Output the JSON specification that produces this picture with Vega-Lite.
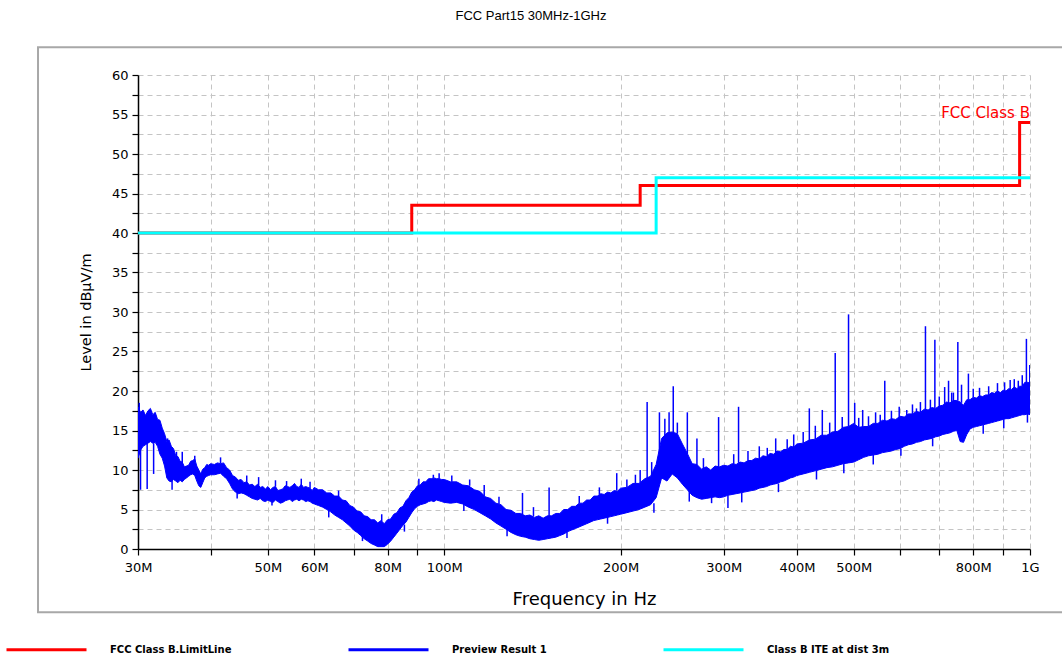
{
"$schema": "https://vega.github.io/schema/vega-lite/v6.json",
"width": 892,
"height": 474,
"autosize": {"type": "none"},
"padding": {"left": 138, "top": 75, "right": 32, "bottom": 113},
"background": "white",
"title": {"text": "FCC Part15 30MHz-1GHz", "font": "Liberation Sans", "fontSize": 13, "fontWeight": "normal", "color": "black", "anchor": "middle", "frame": "group", "dx": -53, "offset": 23},
"config": {"view": {"stroke": null}},
"datasets": {
"limits": [
{"s": "FCC Class B.LimitLine", "f": 30, "v": 40},
{"s": "FCC Class B.LimitLine", "f": 88, "v": 43.5},
{"s": "FCC Class B.LimitLine", "f": 216, "v": 46},
{"s": "FCC Class B.LimitLine", "f": 960, "v": 54},
{"s": "FCC Class B.LimitLine", "f": 1000, "v": 54},
{"s": "Class B ITE at dist 3m", "f": 30, "v": 40},
{"s": "Class B ITE at dist 3m", "f": 230, "v": 47},
{"s": "Class B ITE at dist 3m", "f": 1000, "v": 47}
],
"band": [
{"f":30.0,"lo":11.5,"hi":18.0},{"f":30.3,"lo":12.5,"hi":17.3},{"f":30.6,"lo":13.0,"hi":17.6},{"f":30.9,"lo":13.2,"hi":16.9},{"f":31.2,"lo":13.4,"hi":17.5},{"f":31.5,"lo":13.6,"hi":17.8},{"f":31.8,"lo":13.4,"hi":17.0},{"f":32.1,"lo":13.5,"hi":17.3},{"f":32.4,"lo":13.0,"hi":16.4},{"f":32.7,"lo":12.0,"hi":16.3},{"f":33.0,"lo":11.5,"hi":15.3},{"f":33.3,"lo":10.5,"hi":14.6},{"f":33.6,"lo":9.0,"hi":13.6},{"f":33.9,"lo":8.6,"hi":13.8},{"f":34.2,"lo":8.5,"hi":13.0},{"f":34.5,"lo":8.8,"hi":12.7},{"f":34.8,"lo":8.6,"hi":11.8},{"f":35.1,"lo":8.4,"hi":11.7},{"f":35.4,"lo":8.7,"hi":11.1},{"f":35.7,"lo":8.5,"hi":11.0},{"f":36.0,"lo":8.8,"hi":10.4},{"f":36.3,"lo":9.0,"hi":10.5},{"f":36.6,"lo":9.2,"hi":10.6},{"f":36.9,"lo":9.4,"hi":11.1},{"f":37.2,"lo":9.5,"hi":11.2},{"f":37.5,"lo":9.3,"hi":11.4},{"f":37.8,"lo":8.6,"hi":10.5},{"f":38.1,"lo":8.0,"hi":10.0},{"f":38.4,"lo":7.8,"hi":9.5},{"f":38.7,"lo":8.4,"hi":10.1},{"f":39.0,"lo":9.0,"hi":10.3},{"f":39.3,"lo":9.2,"hi":10.7},{"f":39.6,"lo":9.3,"hi":10.6},{"f":39.9,"lo":9.4,"hi":10.8},
{"f":40.5,"lo":9.4,"hi":10.7},{"f":41.0,"lo":9.5,"hi":10.9},{"f":41.5,"lo":9.6,"hi":10.8},{"f":42.0,"lo":9.2,"hi":10.9},{"f":42.5,"lo":8.9,"hi":10.3},{"f":43.0,"lo":8.3,"hi":10.0},{"f":43.5,"lo":7.6,"hi":9.3},{"f":44.0,"lo":7.2,"hi":9.1},{"f":44.5,"lo":7.0,"hi":8.7},{"f":45.0,"lo":7.1,"hi":8.8},{"f":45.5,"lo":7.0,"hi":8.4},{"f":46.0,"lo":6.8,"hi":8.5},{"f":46.5,"lo":6.6,"hi":8.1},{"f":47.0,"lo":6.4,"hi":8.2},{"f":47.5,"lo":6.3,"hi":7.9},{"f":48.0,"lo":6.2,"hi":8.2},{"f":48.5,"lo":6.4,"hi":7.8},{"f":49.0,"lo":6.1,"hi":7.9},{"f":49.5,"lo":6.0,"hi":7.6},{"f":50.0,"lo":6.2,"hi":7.9},{"f":50.5,"lo":6.0,"hi":7.5},{"f":51.0,"lo":5.9,"hi":7.8},{"f":51.5,"lo":6.2,"hi":7.9},{"f":52.0,"lo":6.0,"hi":7.4},{"f":52.5,"lo":5.8,"hi":7.5},{"f":53.0,"lo":5.9,"hi":7.6},{"f":53.5,"lo":6.1,"hi":8.0},{"f":54.0,"lo":6.2,"hi":7.9},{"f":54.5,"lo":6.3,"hi":7.8},{"f":55.0,"lo":6.0,"hi":8.0},{"f":55.5,"lo":6.2,"hi":8.3},{"f":56.0,"lo":6.3,"hi":7.9},{"f":56.5,"lo":6.1,"hi":7.8},{"f":57.0,"lo":6.3,"hi":8.2},{"f":57.5,"lo":6.2,"hi":7.8},{"f":58.0,"lo":6.0,"hi":7.9},{"f":58.5,"lo":6.1,"hi":7.8},{"f":59.0,"lo":6.0,"hi":7.7},{"f":59.5,"lo":5.8,"hi":7.4},{"f":60.0,"lo":5.7,"hi":7.8},
{"f":61,"lo":5.5,"hi":7.5},{"f":62,"lo":5.3,"hi":7.5},{"f":63,"lo":5.0,"hi":7.1},{"f":64,"lo":4.7,"hi":7.1},{"f":65,"lo":4.3,"hi":6.7},{"f":66,"lo":4.0,"hi":6.7},{"f":67,"lo":3.7,"hi":6.2},{"f":68,"lo":3.3,"hi":6.1},{"f":69,"lo":2.9,"hi":5.5},{"f":70,"lo":2.4,"hi":5.3},{"f":71,"lo":2.1,"hi":4.8},{"f":72,"lo":1.7,"hi":4.7},{"f":73,"lo":1.3,"hi":4.2},{"f":74,"lo":1.0,"hi":4.1},{"f":75,"lo":0.7,"hi":3.7},{"f":76,"lo":0.5,"hi":3.7},{"f":77,"lo":0.3,"hi":3.3},{"f":78,"lo":0.3,"hi":3.6},{"f":79,"lo":0.3,"hi":3.2},{"f":80,"lo":0.6,"hi":3.7},{"f":81,"lo":1.0,"hi":3.8},{"f":82,"lo":1.5,"hi":4.4},{"f":83,"lo":2.0,"hi":4.6},{"f":84,"lo":2.5,"hi":5.2},{"f":85,"lo":3.0,"hi":5.4},{"f":86,"lo":3.4,"hi":6.1},{"f":87,"lo":4.0,"hi":6.5},{"f":88,"lo":4.6,"hi":7.2},{"f":89,"lo":5.1,"hi":7.5},{"f":90,"lo":5.4,"hi":8.0},{"f":91,"lo":5.6,"hi":8.1},{"f":92,"lo":5.7,"hi":8.5},{"f":93,"lo":5.8,"hi":8.5},{"f":94,"lo":6.0,"hi":8.9},{"f":95,"lo":6.1,"hi":8.9},{"f":96,"lo":6.0,"hi":9.0},{"f":97,"lo":6.2,"hi":8.9},{"f":98,"lo":6.1,"hi":8.9},{"f":99,"lo":6.0,"hi":8.8},{"f":100,"lo":5.9,"hi":8.8},
{"f":102.5,"lo":5.8,"hi":8.5},{"f":105,"lo":5.9,"hi":8.5},{"f":107.5,"lo":5.7,"hi":8.1},{"f":110,"lo":5.3,"hi":8.0},{"f":112.5,"lo":5.0,"hi":7.5},{"f":115,"lo":4.6,"hi":7.3},{"f":117.5,"lo":4.2,"hi":6.6},{"f":120,"lo":3.8,"hi":6.4},{"f":122.5,"lo":3.3,"hi":5.8},{"f":125,"lo":2.9,"hi":5.6},{"f":127.5,"lo":2.5,"hi":5.0},{"f":130,"lo":2.1,"hi":4.9},{"f":132.5,"lo":1.8,"hi":4.5},{"f":135,"lo":1.6,"hi":4.5},{"f":137.5,"lo":1.5,"hi":4.2},{"f":140,"lo":1.3,"hi":4.3},{"f":142.5,"lo":1.2,"hi":4.0},{"f":145,"lo":1.1,"hi":4.2},{"f":147.5,"lo":1.2,"hi":3.9},{"f":150,"lo":1.3,"hi":4.2},{"f":152.5,"lo":1.4,"hi":4.2},{"f":155,"lo":1.5,"hi":4.5},{"f":157.5,"lo":1.7,"hi":4.5},{"f":160,"lo":1.9,"hi":5.0},{"f":162.5,"lo":2.2,"hi":5.0},{"f":165,"lo":2.4,"hi":5.4},{"f":167.5,"lo":2.6,"hi":5.4},{"f":170,"lo":2.8,"hi":5.8},{"f":172.5,"lo":3.0,"hi":5.8},{"f":175,"lo":3.2,"hi":6.2},{"f":177.5,"lo":3.4,"hi":6.2},{"f":180,"lo":3.6,"hi":6.7},{"f":182.5,"lo":3.7,"hi":6.7},{"f":185,"lo":3.8,"hi":7.0},{"f":187.5,"lo":3.9,"hi":6.9},{"f":190,"lo":4.0,"hi":7.2},{"f":192.5,"lo":4.1,"hi":7.1},{"f":195,"lo":4.2,"hi":7.4},{"f":197.5,"lo":4.3,"hi":7.3},{"f":200,"lo":4.4,"hi":7.7},
{"f":205,"lo":4.6,"hi":7.8},{"f":210,"lo":4.8,"hi":8.3},{"f":215,"lo":5.0,"hi":8.3},{"f":220,"lo":5.3,"hi":8.9},{"f":225,"lo":5.6,"hi":9.2},{"f":230,"lo":6.5,"hi":10.7},{"f":235,"lo":9.0,"hi":14.0},{"f":240,"lo":8.6,"hi":14.7},{"f":245,"lo":9.5,"hi":14.8},{"f":250,"lo":9.0,"hi":14.6},{"f":255,"lo":8.2,"hi":13.3},{"f":260,"lo":7.5,"hi":12.1},{"f":265,"lo":6.8,"hi":10.8},{"f":270,"lo":6.5,"hi":10.7},{"f":275,"lo":6.3,"hi":10.1},{"f":280,"lo":6.4,"hi":10.4},{"f":285,"lo":6.5,"hi":10.0},{"f":290,"lo":6.6,"hi":10.5},{"f":295,"lo":6.5,"hi":10.4},{"f":300,"lo":6.6,"hi":10.6},{"f":305,"lo":6.8,"hi":10.5},{"f":310,"lo":6.9,"hi":10.8},{"f":315,"lo":7.0,"hi":10.7},{"f":320,"lo":7.1,"hi":11.0},{"f":325,"lo":7.2,"hi":10.9},{"f":330,"lo":7.3,"hi":11.2},{"f":335,"lo":7.4,"hi":11.2},{"f":340,"lo":7.5,"hi":11.5},{"f":345,"lo":7.7,"hi":11.4},{"f":350,"lo":7.8,"hi":11.8},{"f":355,"lo":7.9,"hi":11.7},{"f":360,"lo":8.1,"hi":12.1},{"f":365,"lo":8.2,"hi":12.0},{"f":370,"lo":8.3,"hi":12.4},{"f":375,"lo":8.5,"hi":12.3},{"f":380,"lo":8.6,"hi":12.6},{"f":385,"lo":8.8,"hi":12.6},{"f":390,"lo":9.0,"hi":13.0},{"f":395,"lo":9.1,"hi":12.9},{"f":400,"lo":9.3,"hi":13.3},
{"f":410,"lo":9.5,"hi":13.4},{"f":420,"lo":9.7,"hi":13.8},{"f":430,"lo":9.9,"hi":13.9},{"f":440,"lo":10.1,"hi":14.4},{"f":450,"lo":10.3,"hi":14.4},{"f":460,"lo":10.4,"hi":14.8},{"f":470,"lo":10.6,"hi":14.9},{"f":480,"lo":10.8,"hi":15.4},{"f":490,"lo":10.9,"hi":15.5},{"f":500,"lo":11.0,"hi":15.9},{"f":510,"lo":11.3,"hi":15.4},{"f":520,"lo":11.6,"hi":15.5},{"f":530,"lo":11.8,"hi":15.5},{"f":540,"lo":11.9,"hi":15.9},{"f":550,"lo":12.0,"hi":15.9},{"f":560,"lo":12.2,"hi":16.3},{"f":570,"lo":12.3,"hi":16.2},{"f":580,"lo":12.4,"hi":16.5},{"f":590,"lo":12.6,"hi":16.4},{"f":600,"lo":12.7,"hi":16.8},{"f":610,"lo":13.0,"hi":16.7},{"f":620,"lo":13.2,"hi":17.1},{"f":630,"lo":13.3,"hi":17.1},{"f":640,"lo":13.5,"hi":17.4},{"f":650,"lo":13.6,"hi":17.3},{"f":660,"lo":13.8,"hi":17.7},{"f":670,"lo":13.9,"hi":17.6},{"f":680,"lo":14.0,"hi":17.9},{"f":690,"lo":14.2,"hi":17.8},{"f":700,"lo":14.3,"hi":18.1},{"f":710,"lo":14.5,"hi":18.2},{"f":720,"lo":14.6,"hi":18.6},{"f":730,"lo":14.7,"hi":18.5},{"f":740,"lo":14.9,"hi":18.8},{"f":750,"lo":15.0,"hi":18.8},{"f":760,"lo":13.6,"hi":18.6},{"f":770,"lo":13.5,"hi":18.2},{"f":780,"lo":14.5,"hi":18.9},{"f":790,"lo":15.2,"hi":18.9},{"f":800,"lo":15.4,"hi":19.2},{"f":810,"lo":15.5,"hi":19.1},{"f":820,"lo":15.6,"hi":19.4},{"f":830,"lo":15.7,"hi":19.3},{"f":840,"lo":15.8,"hi":19.5},{"f":850,"lo":15.9,"hi":19.5},{"f":860,"lo":16.0,"hi":19.8},{"f":870,"lo":16.1,"hi":19.7},{"f":880,"lo":16.2,"hi":20.0},{"f":890,"lo":16.3,"hi":19.8},{"f":900,"lo":16.4,"hi":20.1},{"f":910,"lo":16.5,"hi":20.0},{"f":920,"lo":16.5,"hi":20.3},{"f":930,"lo":16.6,"hi":20.2},{"f":940,"lo":16.7,"hi":20.5},{"f":950,"lo":16.8,"hi":20.3},{"f":960,"lo":16.9,"hi":20.6},{"f":970,"lo":17.0,"hi":20.6},{"f":980,"lo":17.0,"hi":21.1},{"f":990,"lo":17.1,"hi":21.1},{"f":1000,"lo":17.0,"hi":21.0}
],
"peaks": [
{"f":30.15,"lo":12,"hi":18.5},{"f":30.3,"lo":7.5,"hi":13},{"f":31.1,"lo":7.6,"hi":13.4},{"f":31.9,"lo":9.5,"hi":13.4},{"f":33.7,"lo":9,"hi":14},{"f":34.3,"lo":7.5,"hi":8.6},{"f":34.9,"lo":11,"hi":12.3},{"f":35.7,"lo":10.5,"hi":12.3},{"f":37.5,"lo":11,"hi":11.8},{"f":41.5,"lo":10.8,"hi":11.6},{"f":44.3,"lo":6.4,"hi":7.1},{"f":46,"lo":8.4,"hi":9.3},{"f":48.2,"lo":8,"hi":9.1},{"f":50.8,"lo":5.5,"hi":6.0},{"f":51.5,"lo":7.9,"hi":8.7},{"f":53.8,"lo":7.9,"hi":8.6},{"f":57.0,"lo":8,"hi":8.9},{"f":59,"lo":7.7,"hi":8.5},{"f":63.5,"lo":4.0,"hi":5.0},{"f":66,"lo":6.6,"hi":7.4},{"f":72.5,"lo":1.0,"hi":1.8},{"f":78.2,"lo":3.5,"hi":4.4},{"f":85.5,"lo":2.2,"hi":3.1},{"f":90.5,"lo":8.0,"hi":8.9},{"f":95.8,"lo":9,"hi":9.4},{"f":98,"lo":8.9,"hi":9.6},{"f":103,"lo":8.5,"hi":9.3},{"f":108,"lo":4.8,"hi":5.8},{"f":110.5,"lo":8.0,"hi":8.8},{"f":117,"lo":6.7,"hi":8.1},{"f":124,"lo":5.7,"hi":6.6},{"f":128,"lo":1.6,"hi":2.6},{"f":136,"lo":4.4,"hi":7.1},{"f":142,"lo":4.1,"hi":5.3},{"f":151,"lo":4.1,"hi":7.8},{"f":162,"lo":1.4,"hi":2.3},{"f":170,"lo":5.8,"hi":6.7},{"f":184,"lo":6.9,"hi":7.8},{"f":190,"lo":3.2,"hi":4.1},{"f":197,"lo":7.4,"hi":9.6},{"f":205,"lo":7.8,"hi":8.8},{"f":212,"lo":8.3,"hi":9.4},{"f":216,"lo":8.4,"hi":10},{"f":222,"lo":8.8,"hi":18.6},{"f":226,"lo":9.0,"hi":11.0},{"f":228,"lo":4.6,"hi":5.8},{"f":233,"lo":12,"hi":17.3},{"f":238,"lo":14.3,"hi":16.5},{"f":242,"lo":14.6,"hi":17.3},{"f":246,"lo":14.8,"hi":20.6},{"f":250,"lo":14.6,"hi":16.0},{"f":260,"lo":12,"hi":17.3},{"f":262,"lo":6.0,"hi":7.6},{"f":270,"lo":10.6,"hi":14},{"f":277,"lo":10.1,"hi":11.5},{"f":286,"lo":5.8,"hi":6.6},{"f":294,"lo":10.4,"hi":16.7},{"f":305,"lo":5.2,"hi":6.8},{"f":312,"lo":10.7,"hi":12.0},{"f":318,"lo":10.9,"hi":18},{"f":322,"lo":5.9,"hi":7.1},{"f":330,"lo":11.2,"hi":12.4},{"f":345,"lo":11.4,"hi":13},{"f":356,"lo":11.7,"hi":12.8},{"f":368,"lo":12.2,"hi":14},{"f":372,"lo":7.2,"hi":8.3},{"f":385,"lo":12.6,"hi":13.9},{"f":395,"lo":12.9,"hi":14.5},{"f":410,"lo":13.4,"hi":14.8},{"f":420,"lo":13.7,"hi":17.8},{"f":430,"lo":13.9,"hi":15.6},{"f":432,"lo":8.8,"hi":10.0},{"f":442,"lo":14.3,"hi":17.6},{"f":455,"lo":14.5,"hi":16.0},{"f":465,"lo":14.8,"hi":24.8},{"f":478,"lo":15.3,"hi":16.7},{"f":481,"lo":9.6,"hi":10.8},{"f":490,"lo":15.5,"hi":29.7},{"f":502,"lo":15.8,"hi":18.5},{"f":510,"lo":15.4,"hi":16.6},{"f":518,"lo":15.4,"hi":17.6},{"f":530,"lo":15.5,"hi":16.8},{"f":540,"lo":10.7,"hi":11.9},{"f":545,"lo":15.9,"hi":17.3},{"f":555,"lo":15.9,"hi":17.0},{"f":565,"lo":16.2,"hi":21.3},{"f":580,"lo":16.4,"hi":17.5},{"f":598,"lo":16.7,"hi":18.0},{"f":602,"lo":11.8,"hi":12.7},{"f":616,"lo":16.9,"hi":17.6},{"f":630,"lo":17.1,"hi":18.3},{"f":640,"lo":17.3,"hi":17.8},{"f":650,"lo":17.3,"hi":18.6},{"f":663,"lo":17.6,"hi":28.2},{"f":676,"lo":17.7,"hi":18.9},{"f":682,"lo":13.0,"hi":14.0},{"f":688,"lo":17.8,"hi":26.5},{"f":700,"lo":18,"hi":19.3},{"f":715,"lo":18.3,"hi":20.5},{"f":726,"lo":18.5,"hi":21.3},{"f":735,"lo":18.5,"hi":19.8},{"f":740,"lo":18.7,"hi":19.8},{"f":753,"lo":18.8,"hi":26.2},{"f":764,"lo":18.5,"hi":20.8},{"f":785,"lo":18.9,"hi":22.2},{"f":800,"lo":19.2,"hi":20.3},{"f":820,"lo":19.3,"hi":20.4},{"f":832,"lo":14.6,"hi":15.7},{"f":850,"lo":19.5,"hi":20.6},{"f":880,"lo":19.9,"hi":21.0},{"f":902,"lo":15.3,"hi":16.4},{"f":905,"lo":20.0,"hi":21.1},{"f":925,"lo":20.2,"hi":21.4},{"f":940,"lo":20.4,"hi":21.5},{"f":955,"lo":20.4,"hi":21.3},{"f":970,"lo":20.6,"hi":22.0},{"f":986,"lo":21,"hi":26.6},{"f":990,"lo":16.0,"hi":17.1},{"f":999,"lo":21,"hi":23.3}
]
},
"layer": [
{
"data": {"name": "band"},
"mark": {"type": "area", "strokeWidth": 1, "stroke": "#0000ff", "fill": "#0000ff", "opacity": 1, "clip": true},
"encoding": {
"x": {"field": "f", "type": "quantitative", "title": "Frequency in Hz",
"scale": {"type": "log", "domain": [30, 1000], "nice": false},
"axis": {"values": [30,40,50,60,70,80,90,100,200,300,400,500,600,700,800,900,1000], "tickCount": 40,
"labelExpr": "datum.value == 1000 ? '1G' : (indexof([30,50,60,80,100,200,300,400,500,800], datum.value) >= 0 ? datum.value + 'M' : '')",
"grid": true, "gridDash": [5, 4], "gridColor": "#c4c4c4", "gridWidth": 1,
"domainColor": "black", "domainWidth": 1.5, "tickColor": "black", "tickSize": 6, "tickWidth": 1.2,
"labelFont": "DejaVu Sans", "labelFontSize": 13, "labelColor": "black", "labelPadding": 6, "labelFlush": false, "labelOverlap": false,
"titleFont": "DejaVu Sans", "titleFontSize": 18, "titleFontWeight": "normal", "titleColor": "black", "titlePadding": 16}},
"y": {"field": "lo", "type": "quantitative", "title": "Level in dBµV/m",
"scale": {"domain": [0, 60], "nice": false, "zero": true},
"axis": {"values": [0,2.5,5,7.5,10,12.5,15,17.5,20,22.5,25,27.5,30,32.5,35,37.5,40,42.5,45,47.5,50,52.5,55,57.5,60], "tickCount": 40,
"labelExpr": "datum.value % 5 == 0 ? datum.label : ''",
"grid": true, "gridDash": [5, 4], "gridColor": "#c4c4c4", "gridWidth": 1,
"domainColor": "black", "domainWidth": 1.5, "tickColor": "black", "tickSize": 6, "tickWidth": 1.2,
"labelFont": "DejaVu Sans", "labelFontSize": 13, "labelColor": "black", "labelPadding": 4, "labelOverlap": false,
"titleFont": "DejaVu Sans", "titleFontSize": 14.5, "titleFontWeight": "normal", "titleColor": "black", "titlePadding": 18}},
"y2": {"field": "hi"}
}
},
{
"data": {"name": "peaks"},
"mark": {"type": "rule", "strokeWidth": 1.5, "color": "#0000ff", "clip": true},
"encoding": {
"x": {"field": "f", "type": "quantitative"},
"y": {"field": "lo", "type": "quantitative"},
"y2": {"field": "hi"}
}
},
{
"data": {"name": "limits"},
"transform": [{"filter": "datum.s == 'FCC Class B.LimitLine'"}],
"mark": {"type": "line", "interpolate": "step-after", "strokeWidth": 3},
"encoding": {
"x": {"field": "f", "type": "quantitative"},
"y": {"field": "v", "type": "quantitative"},
"color": {"field": "s", "type": "nominal",
"scale": {"domain": ["FCC Class B.LimitLine", "Preview Result 1", "Class B ITE at dist 3m"], "range": ["#ff0000", "#0000ff", "#00ffff"]},
"legend": {"orient": "none", "legendX": -133, "legendY": 533, "direction": "horizontal", "title": null,
"symbolType": "stroke", "symbolSize": 6400, "symbolStrokeWidth": 3, "labelOffset": 22, "columnPadding": 110,
"labelFont": "DejaVu Sans", "labelFontSize": 10, "labelFontWeight": "bold", "labelColor": "black", "padding": 0}}
}
},
{
"data": {"name": "limits"},
"transform": [{"filter": "datum.s == 'Class B ITE at dist 3m'"}],
"mark": {"type": "line", "interpolate": "step-after", "strokeWidth": 3},
"encoding": {
"x": {"field": "f", "type": "quantitative"},
"y": {"field": "v", "type": "quantitative"},
"color": {"field": "s", "type": "nominal", "title": null}
}
},
{
"data": {"values": [{}]},
"mark": {"type": "text", "align": "right", "baseline": "bottom", "dy": -1, "font": "DejaVu Sans", "fontSize": 15, "color": "#ff0000"},
"encoding": {
"x": {"datum": 1000, "type": "quantitative"},
"y": {"datum": 54, "type": "quantitative"},
"text": {"value": "FCC Class B"}
}
},
{
"data": {"values": [{}]},
"mark": {"type": "rect", "filled": false, "stroke": "#a8a8a8", "strokeWidth": 2, "clip": false},
"encoding": {
"x": {"datum": 20.25, "type": "quantitative"},
"x2": {"datum": 1200},
"y": {"datum": 63.5, "type": "quantitative"},
"y2": {"datum": -8}
}
}
]
}
